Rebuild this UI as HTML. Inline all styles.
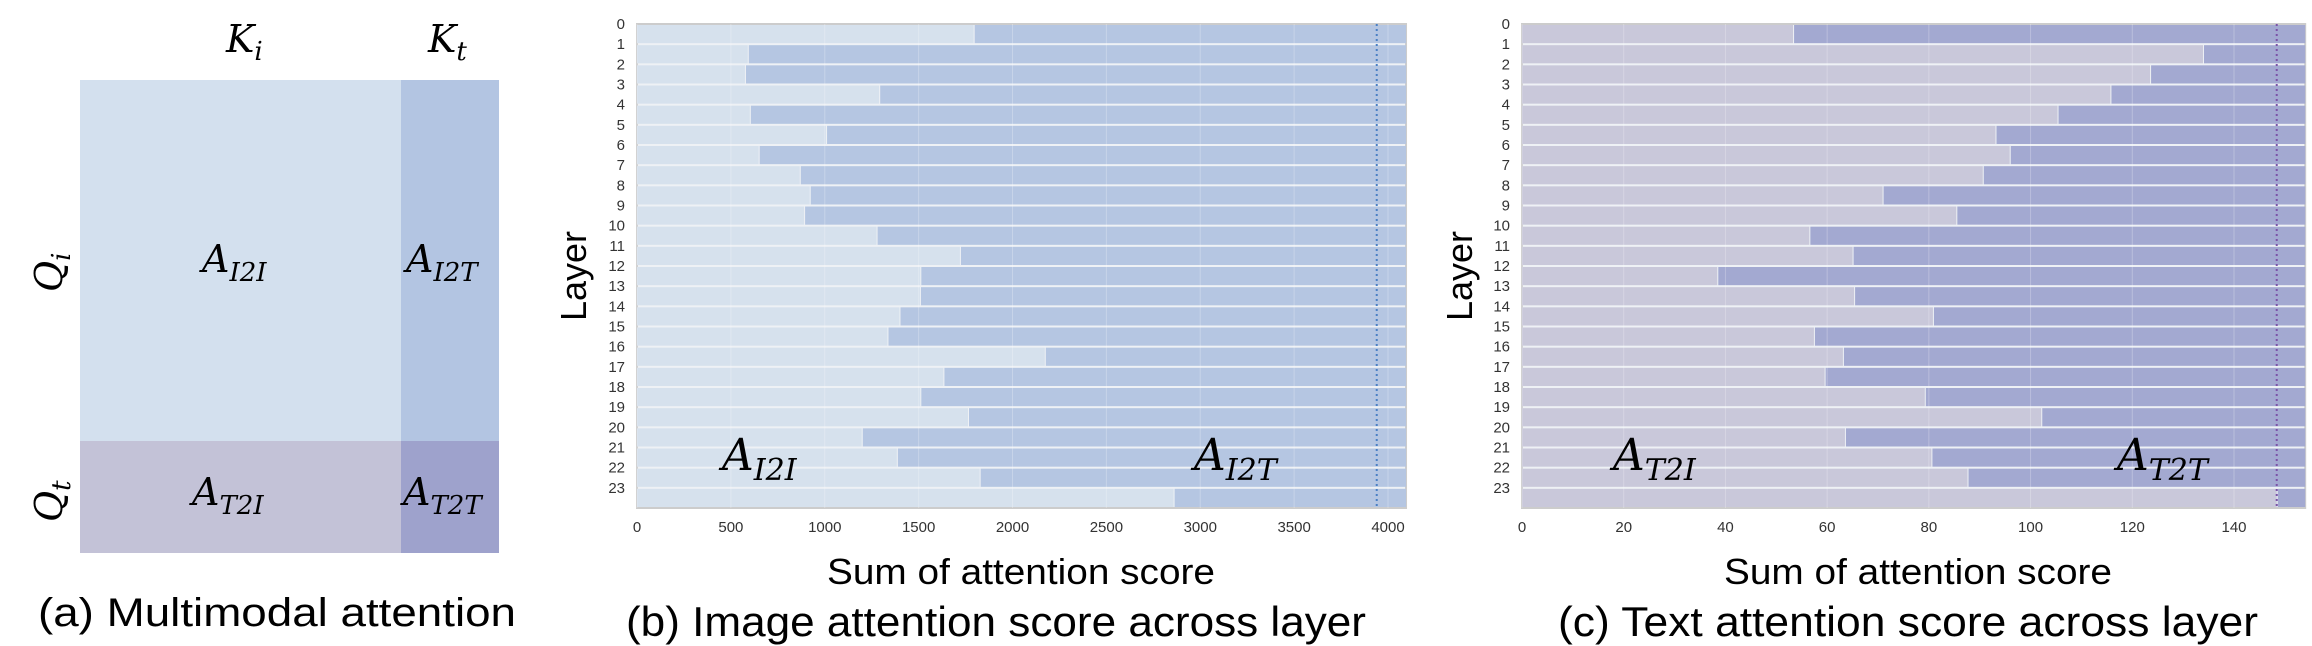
<!DOCTYPE html>
<html><head><meta charset="utf-8"><style>
html,body{margin:0;padding:0;background:#fff;}
svg{display:block;}
.cap{font-family:"Liberation Sans",sans-serif;fill:#000;}
.math{font-family:"DejaVu Serif","Liberation Serif",serif;font-style:italic;fill:#000;}
.tick{font-family:"Liberation Sans",sans-serif;font-size:15px;fill:#333;}
</style></head><body>
<svg id="fig" width="2312" height="646" viewBox="0 0 2312 646" xmlns="http://www.w3.org/2000/svg">
<g>
<rect x="80" y="80" width="321" height="361" fill="#d3e0ee"/>
<rect x="401" y="80" width="98" height="361" fill="#b3c5e2"/>
<rect x="80" y="441" width="321" height="112" fill="#c3c2d7"/>
<rect x="401" y="441" width="98" height="112" fill="#9ea2cc"/>
<text class="math" x="226" y="52" font-size="38">K<tspan font-size="26" dy="8">i</tspan></text>
<text class="math" x="428" y="52" font-size="38">K<tspan font-size="26" dy="8">t</tspan></text>
<text class="math" font-size="38" transform="translate(62,292) rotate(-90)">Q<tspan font-size="26" dy="8">i</tspan></text>
<text class="math" font-size="38" transform="translate(62,522) rotate(-90)">Q<tspan font-size="26" dy="8">t</tspan></text>
<text class="math" x="202" y="272" font-size="38">A<tspan font-size="26" dy="9">I2I</tspan></text>
<text class="math" x="406" y="272" font-size="38">A<tspan font-size="26" dy="9">I2T</tspan></text>
<text class="math" x="192" y="505" font-size="38">A<tspan font-size="26" dy="9">T2I</tspan></text>
<text class="math" x="403" y="505" font-size="38">A<tspan font-size="26" dy="9">T2T</tspan></text>
<text class="cap" x="38" y="626" font-size="40" textLength="478" lengthAdjust="spacingAndGlyphs">(a) Multimodal attention</text>
</g>
<g id="pb"></g>
<g id="pc"></g>
</svg>
<script>
const layers = [0,1,2,3,4,5,6,7,8,9,10,11,12,13,14,15,16,17,18,19,20,21,22,23];
const imageI2I = [1793,590,575,1290,601,1007,648,867,920,890,1276,1720,1509,1507,1398,1334,2172,1632,1509,1763,1197,1384,1825,2858];
const imageTotal = 4096;
const imageRef = 3940;
const imageTicks = [0,500,1000,1500,2000,2500,3000,3500,4000];
const textT2I = [53.3,133.9,123.5,115.7,105.3,93.1,95.9,90.6,70.9,85.4,56.5,65.0,38.4,65.3,80.8,57.4,63.1,59.5,79.2,102.1,63.5,80.5,87.6,148.4];
const textTotal = 154;
const textRef = 148.4;
const textTicks = [0,20,40,60,80,100,120,140];

const NS = 'http://www.w3.org/2000/svg';
function mk(parent, tag, attrs, txt) {
  const e = document.createElementNS(NS, tag);
  for (const k in attrs) e.setAttribute(k, attrs[k]);
  if (txt !== undefined) e.textContent = txt;
  parent.appendChild(e);
  return e;
}
function panel(g, cfg) {
  const {x0, xMaxPix, top, bottom, vmax, ref, vals, ticks, light, dark, dot, pre, lab1, lab2, lab1x, lab2x, caption, capX, capW, sumX, layerX, tickRight} = cfg;
  const xs = v => x0 + (v / ticks[ticks.length-1]) * (xMaxPix - x0);
  const xRight = xs(vmax);
  const rowH = (bottom - top) / layers.length;
  const ys = i => top + i * rowH;
  const bg = mk(g, 'rect', {x: x0, y: top, width: xRight - x0, height: bottom - top, fill: '#eef1f5', stroke: '#cccccc', 'stroke-width': 2});
  
  
  layers.forEach((L, i) => {
    const r1 = mk(g, 'rect', {x: x0, y: ys(i) + 1, width: xs(vals[i]) - x0, height: rowH - 2, fill: light});
    
    
    const r2 = mk(g, 'rect', {x: xs(vals[i]) + 1, y: ys(i) + 1, width: Math.max(0, xRight - xs(vals[i]) - 1), height: rowH - 2, fill: dark});
    
    
    const t = mk(g, 'text', {x: tickRight, y: ys(i) + 5, 'text-anchor': 'end', class: 'tick'}, String(L));
    
    
  });
  ticks.forEach(v => {
    const gl = mk(g, 'line', {x1: xs(v), x2: xs(v), y1: top, y2: bottom, stroke: '#ffffff', 'stroke-opacity': 0.25});
    
    
    const t = mk(g, 'text', {x: xs(v), y: bottom + 24, 'text-anchor': 'middle', class: 'tick'}, String(v));
    
    
  });
  const dl = mk(g, 'line', {x1: xs(ref), x2: xs(ref), y1: top, y2: bottom, stroke: dot, 'stroke-width': 2, 'stroke-dasharray': '2,3'});
  
  
  const l1 = mk(g, 'text', {x: lab1x, y: 470, class: 'math', 'font-size': 44});
  l1.innerHTML = 'A<tspan font-size="30" dy="10">' + lab1 + '</tspan>';
  
  
  const l2 = mk(g, 'text', {x: lab2x, y: 470, class: 'math', 'font-size': 44});
  l2.innerHTML = 'A<tspan font-size="30" dy="10">' + lab2 + '</tspan>';
  
  
  const yl = mk(g, 'text', {transform: 'translate(' + layerX + ',276) rotate(-90)', 'text-anchor': 'middle', class: 'cap', 'font-size': 36, textLength: 90, lengthAdjust: 'spacingAndGlyphs'}, 'Layer');
  
  
  const xl = mk(g, 'text', {x: sumX, y: 584, 'text-anchor': 'middle', class: 'cap', 'font-size': 36, textLength: 388, lengthAdjust: 'spacingAndGlyphs'}, 'Sum of attention score');
  
  
  const cp = mk(g, 'text', {x: capX, y: 636, 'text-anchor': 'middle', class: 'cap', 'font-size': 42, textLength: capW, lengthAdjust: 'spacingAndGlyphs'}, caption);
  
  
}
panel(document.getElementById('pb'), {x0: 637, xMaxPix: 1388, top: 24, bottom: 508, vmax: imageTotal, ref: imageRef, vals: imageI2I, ticks: imageTicks,
  light: '#d6e1ed', dark: '#b5c6e2', dot: '#4a7fc4', pre: 'b', lab1: 'I2I', lab2: 'I2T', lab1x: 722, lab2x: 1194,
  caption: '(b) Image attention score across layer', capX: 996, capW: 740, sumX: 1021, layerX: 586, tickRight: 625});
panel(document.getElementById('pc'), {x0: 1522, xMaxPix: 2234, top: 24, bottom: 508, vmax: textTotal, ref: textRef, vals: textT2I, ticks: textTicks,
  light: '#c9c8da', dark: '#a3a9d1', dot: '#7b52a8', pre: 'c', lab1: 'T2I', lab2: 'T2T', lab1x: 1613, lab2x: 2117,
  caption: '(c) Text attention score across layer', capX: 1908, capW: 700, sumX: 1918, layerX: 1472, tickRight: 1510});
</script>
</body></html>
